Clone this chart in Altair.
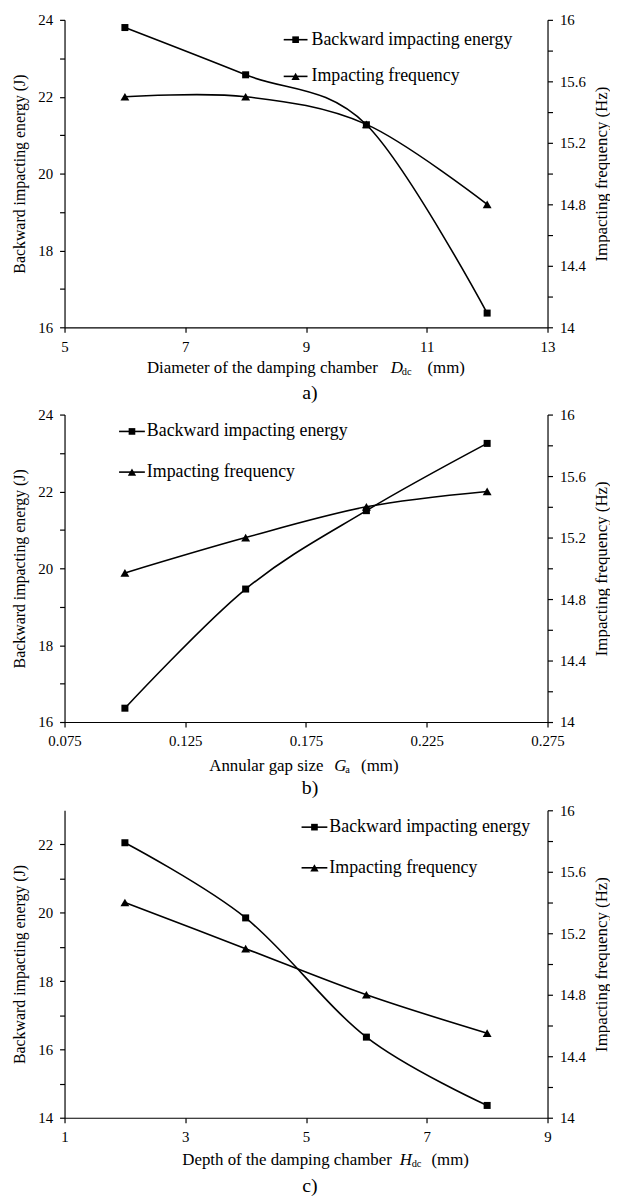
import altair as alt
import pandas as pd

FONT = "Liberation Serif"

# ---------------- data ----------------
A_X = [6, 8, 10, 12]
A_ENERGY = [23.8, 22.57, 21.27, 16.37]
A_FREQ = [15.5, 15.5, 15.32, 14.8]

B_X = [0.10, 0.15, 0.20, 0.25]
B_ENERGY = [16.36, 19.46, 21.5, 23.25]
B_FREQ = [14.97, 15.2, 15.4, 15.5]

C_X = [2, 4, 6, 8]
C_ENERGY = [22.05, 19.85, 16.36, 14.36]
C_FREQ = [15.4, 15.1, 14.8, 14.55]

LEGEND_LABELS = ["Backward impacting energy", "Impacting frequency"]
Y_LEFT_TITLE = "Backward impacting energy  (J)"
Y_RIGHT_TITLE = "Impacting frequency (Hz)"

A_XTITLE = ["Diameter of the damping chamber", "D", "dc", "(mm)"]
B_XTITLE = ["Annular gap size", "G", "a", "(mm)"]
C_XTITLE = ["Depth of the damping chamber", "H", "dc", "(mm)"]
CAPTIONS = ["a)", "b)", "c)"]

A_XTICKS = [5, 7, 9, 11, 13]
B_XTICKS = [0.075, 0.125, 0.175, 0.225, 0.275]
C_XTICKS = [1, 3, 5, 7, 9]
A_ETICKS = [16, 17, 18, 19, 20, 21, 22, 23, 24]
B_ETICKS = [16, 17, 18, 19, 20, 21, 22, 23, 24]
C_ETICKS = [14, 15, 16, 17, 18, 19, 20, 21, 22]
F_TICKS = [14.0, 14.2, 14.4, 14.6, 14.8, 15.0, 15.2, 15.4, 15.6, 15.8, 16.0]

W, H = 487, 310
LW = 1.6


def panel(xs, energy, freq, xdomain, xticks, xfmt, edomain, eticks,
          xtitle, caption, leg, tpos):
    df = pd.DataFrame({"x": xs, "energy": energy, "freq": freq})
    base = alt.Chart(df)
    xenc = alt.X("x:Q",
                 scale=alt.Scale(domain=xdomain, nice=False, zero=False),
                 axis=alt.Axis(values=xticks, format=xfmt, title=None,
                               labelFlush=False, labelOverlap=False))
    ey = alt.Y("energy:Q",
               scale=alt.Scale(domain=edomain, nice=False, zero=False),
               axis=alt.Axis(orient="left", values=eticks,
                             labelExpr="datum.value % 2 == 0 ? datum.label : ''",
                             title=Y_LEFT_TITLE, titleFontSize=16, titlePadding=10))
    fy = alt.Y("freq:Q",
               scale=alt.Scale(domain=[14, 16], nice=False, zero=False),
               axis=alt.Axis(orient="right", values=F_TICKS, format="~g",
                             labelExpr="round(datum.value*10) % 4 == 0 ? datum.label : ''",
                             title=Y_RIGHT_TITLE, titleAngle=270,
                             titleBaseline="top", titlePadding=8))
    e_line = base.mark_line(interpolate="cardinal", tension=0, color="black",
                            strokeWidth=LW).encode(x=xenc, y=ey)
    e_pts = base.mark_point(shape="square", filled=True, size=50, color="black",
                            opacity=1).encode(x=xenc, y=ey)
    f_line = base.mark_line(interpolate="cardinal", tension=0, color="black",
                            strokeWidth=LW).encode(x=xenc, y=fy)
    f_pts = base.mark_point(shape="triangle-up", filled=True, size=80,
                            color="black", opacity=1).encode(x=xenc, y=fy)

    # legend (drawn by hand, lines with markers)
    lx0, lx1, lxm, ltx, ly0, ly1 = leg
    extra = []
    for label, shape, ly, sz in [(LEGEND_LABELS[0], "square", ly0, 45),
                                 (LEGEND_LABELS[1], "triangle-up", ly1, 70)]:
        d = alt.Chart(pd.DataFrame({"t": [label]}))
        extra.append(d.mark_rule(color="black", strokeWidth=LW).encode(
            x=alt.value(lx0), x2=alt.value(lx1), y=alt.value(ly)))
        extra.append(d.mark_point(shape=shape, filled=True, size=sz, color="black",
                                  opacity=1).encode(x=alt.value(lxm), y=alt.value(ly)))
        extra.append(d.mark_text(align="left", baseline="middle", font=FONT,
                                 fontSize=18, color="black").encode(
            x=alt.value(ltx), y=alt.value(ly), text="t:N"))

    # x-axis title with italic symbol and subscript
    main_r, sym_l, sub_l, unit_l, ty = tpos
    main, sym, sub, unit = xtitle
    parts = [(main, main_r, "right", 17, "normal", ty),
             (sym, sym_l, "left", 17, "italic", ty),
             (sub, sub_l, "left", 10.5, "normal", ty + 4),
             (unit, unit_l, "left", 17, "normal", ty)]
    for txt, px, al, fs, st, py in parts:
        d = alt.Chart(pd.DataFrame({"t": [txt]}))
        extra.append(d.mark_text(align=al, baseline="middle", font=FONT,
                                 fontSize=fs, fontStyle=st, color="black").encode(
            x=alt.value(px), y=alt.value(py), text="t:N"))
    # caption
    d = alt.Chart(pd.DataFrame({"t": [caption[0]]}))
    extra.append(d.mark_text(align="center", baseline="middle", font=FONT,
                             fontSize=20, color="black").encode(
        x=alt.value(W / 2 + 4), y=alt.value(H + caption[1]), text="t:N"))

    energy_layer = alt.layer(e_line, e_pts)
    freq_layer = alt.layer(f_line, f_pts)
    return alt.layer(energy_layer, freq_layer, *extra).resolve_scale(
        y="independent").properties(width=W, height=H)


pa = panel(A_X, A_ENERGY, A_FREQ, [5, 13], A_XTICKS, "d", [16, 24], A_ETICKS,
           A_XTITLE, (CAPTIONS[0], 66), (221, 245, 233, 249, 20, 57),
           (316, 329, 340, 366, H + 41))
pb = panel(B_X, B_ENERGY, B_FREQ, [0.075, 0.275], B_XTICKS, ".3f", [16, 24], B_ETICKS,
           B_XTITLE, (CAPTIONS[1], 67), (55, 81, 68, 83, 17, 58),
           (261, 272, 283, 299, H + 44))
pc = panel(C_X, C_ENERGY, C_FREQ, [1, 9], C_XTICKS, "d", [14, 23], C_ETICKS,
           C_XTITLE, (CAPTIONS[2], 69), (239, 265, 252, 267, 17, 58),
           (330, 338, 350, 370, H + 43))

chart = alt.vconcat(pa, pb, pc, spacing=5).properties(
    padding={"left": 4, "top": 0, "right": 0, "bottom": 0}
).configure_view(stroke=None).configure_axis(
    labelFont=FONT, titleFont=FONT, labelFontSize=15, titleFontSize=17,
    titleFontWeight="normal", labelColor="black", titleColor="black",
    domainColor="black", tickColor="black", grid=False, tickSize=5,
    labelPadding=7, domainWidth=1.2, tickWidth=1.2
)

chart.save("out.html", embed_options={"renderer": "svg", "actions": False})
